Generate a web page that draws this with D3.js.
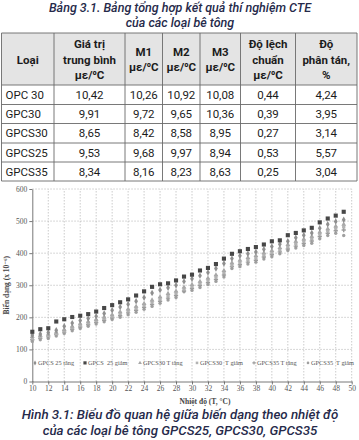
<!DOCTYPE html>
<html><head><meta charset="utf-8">
<script src="https://cdn.jsdelivr.net/npm/d3@7"></script>
<style>
html,body{margin:0;padding:0;background:#fff;}
svg{display:block;}
</style></head>
<body>
<svg id="c" width="359" height="440"></svg>
<script>
// ---------- Table data ----------
const tableTitle = ["Bảng 3.1. Bảng tổng hợp kết quả thí nghiệm CTE", "của các loại bê tông"];
const headers = [["Loại"], ["Giá trị", "trung bình", "με/⁰C"], ["M1", "με/⁰C"], ["M2", "με/⁰C"], ["M3", "με/⁰C"], ["Độ lệch", "chuẩn", "με/⁰C"], ["Độ", "phân tán,", "%"]];
const types = ["OPC 30", "GPC30", "GPCS30", "GPCS25", "GPCS35"];
const meanVals = [10.42, 9.91, 8.65, 9.53, 8.34];
const m1Vals = [10.26, 9.72, 8.42, 9.68, 8.16];
const m2Vals = [10.92, 9.65, 8.58, 9.97, 8.23];
const m3Vals = [10.08, 10.36, 8.95, 8.94, 8.63];
const sdVals = [0.44, 0.39, 0.27, 0.53, 0.25];
const cvVals = [4.24, 3.95, 3.14, 5.57, 3.04];

// ---------- Chart data ----------
const temps = d3.range(10, 50); // 10..49 °C
const seriesNames = ["GPCS 25 tăng", "GPCS  25 giảm", "GPCS30 T tăng", "GPCS30  T giảm", "GPCS35 T tăng", "GPCS35  T giảm"];
const gpcs25Tang = [145,148,153,160,172,182,190,196,203,212,222,232,241,250,262,276,285,292,300,312,320,330,340,352,368,383,392,398,404,412,421,428,437,448,456,463,478,490,499,504];
const gpcs25Giam = [155,163,166,187,194,201,205,210,218,229,238,247,256,268,281,295,303,306,315,327,333,346,354,366,383,398,406,413,419,427,437,440,456,463,471,479,496,508,517,529];
const gpcs30Tang = [140,143,147,153,162,172,180,186,193,201,208,217,226,234,243,254,264,274,282,294,302,312,322,332,346,370,378,386,392,401,408,417,427,437,444,452,466,476,484,490];
const gpcs30Giam = [135,140,144,150,158,168,176,183,190,197,204,212,221,229,238,248,258,268,276,288,296,306,316,326,340,363,371,380,386,395,402,411,420,430,438,446,460,470,478,482];
const gpcs35Tang = [130,135,139,146,154,163,170,177,184,191,198,205,214,222,231,240,250,260,268,282,290,299,308,318,332,358,364,372,378,388,395,404,413,422,430,438,452,462,470,472];
const gpcs35Giam = [125,130,134,142,150,158,165,172,179,186,193,200,208,216,225,234,244,254,262,280,284,293,302,312,326,352,358,366,372,382,389,398,408,416,424,431,445,455,462,455];
const yTicks = [0, 100, 200, 300, 400, 500, 600];
const xTicks = d3.range(10, 51, 2);
const caption = ["Hình 3.1: Biểu đồ quan hệ giữa biến dạng theo nhiệt độ", "của các loại bê tông GPCS25, GPCS30, GPCS35"];

const svg = d3.select("#c");
const titleColor = "#262a4a";
const sans = "Roboto, 'Noto Sans', sans-serif";
const serif = "'Liberation Serif', 'DejaVu Serif', serif";

// ---------- Table title ----------
svg.selectAll("text.tt").data(tableTitle).join("text")
  .attr("x", 180).attr("y", (d, i) => 12 + i * 15)
  .attr("text-anchor", "middle")
  .style("font-family", sans).style("font-style", "italic").style("font-weight", 500)
  .style("font-size", "12.5px").attr("fill", titleColor).text(d => d);

// ---------- Table ----------
const colEdges = [1.5, 54, 125, 162.5, 200, 240.5, 295.5, 357];
const rowEdges = [33, 85, 104.5, 123.5, 143, 162, 181];
const fmt = v => v.toFixed(2).replace(".", ",");
const rows = types.map((t, i) => [t, fmt(meanVals[i]), fmt(m1Vals[i]), fmt(m2Vals[i]), fmt(m3Vals[i]), fmt(sdVals[i]), fmt(cvVals[i])]);

const tbl = svg.append("g");
tbl.append("rect").attr("x", colEdges[0]).attr("y", rowEdges[0])
  .attr("width", colEdges[7] - colEdges[0]).attr("height", rowEdges[1] - rowEdges[0]).attr("fill", "#e4e4e4");
tbl.selectAll("line.h").data(rowEdges).join("line")
  .attr("x1", colEdges[0]).attr("x2", colEdges[7]).attr("y1", d => d).attr("y2", d => d)
  .attr("stroke", "#6a6a6a").attr("stroke-width", 0.9);
tbl.selectAll("line.v").data(colEdges).join("line")
  .attr("y1", rowEdges[0]).attr("y2", rowEdges[6]).attr("x1", d => d).attr("x2", d => d)
  .attr("stroke", "#6a6a6a").attr("stroke-width", 0.9);

headers.forEach((lines, c) => {
  const cx = (colEdges[c] + colEdges[c + 1]) / 2;
  const mid = (rowEdges[0] + rowEdges[1]) / 2;
  const lh = 15.5;
  const y0 = mid - (lines.length - 1) * lh / 2 + 4.5;
  lines.forEach((l, k) => {
    tbl.append("text").attr("x", cx).attr("y", y0 + k * lh).attr("text-anchor", "middle")
      .style("font-family", sans).style("font-weight", 700).style("font-size", "11.5px")
      .attr("fill", "#1c1c1c").text(l);
  });
});
rows.forEach((r, i) => {
  const y = (rowEdges[i + 1] + rowEdges[i + 2]) / 2 + 4.2;
  r.forEach((v, c) => {
    const left = c === 0;
    tbl.append("text")
      .attr("x", left ? colEdges[0] + 4 : (colEdges[c] + colEdges[c + 1]) / 2)
      .attr("y", y).attr("text-anchor", left ? "start" : "middle")
      .style("font-family", sans).style("font-size", "11.5px").attr("fill", "#1c1c1c").text(v);
  });
});

// ---------- Chart ----------
const x = d3.scaleLinear().domain([10, 50]).range([32.3, 351.7]);
const y = d3.scaleLinear().domain([0, 600]).range([381.5, 189]);
const ch = svg.append("g");

ch.selectAll("line.gx").data(xTicks.slice(1)).join("line")
  .attr("x1", d => x(d)).attr("x2", d => x(d)).attr("y1", y(0)).attr("y2", y(600))
  .attr("stroke", "#b5b5b5").attr("stroke-width", 0.7).attr("stroke-dasharray", "1.5,1.5");
ch.selectAll("line.gy").data(yTicks.slice(1)).join("line")
  .attr("x1", x(10)).attr("x2", x(50)).attr("y1", d => y(d)).attr("y2", d => y(d))
  .attr("stroke", "#b5b5b5").attr("stroke-width", 0.7).attr("stroke-dasharray", "1.5,1.5");

const yAxis = d3.axisLeft(y).tickValues(yTicks).tickSize(3).tickSizeOuter(0);
const xAxis = d3.axisBottom(x).tickValues(xTicks).tickSize(3).tickSizeOuter(0);
const ya = ch.append("g").attr("transform", `translate(${x(10)},0)`).call(yAxis);
const xa = ch.append("g").attr("transform", `translate(0,${y(0)})`).call(xAxis);
[ya, xa].forEach(a => {
  a.select(".domain").attr("stroke", "#555").attr("stroke-width", 0.8);
  a.selectAll(".tick line").attr("stroke", "#555").attr("stroke-width", 0.8);
  a.selectAll(".tick text").style("font-family", serif).style("font-size", "7.5px").attr("fill", "#555");
});
ya.selectAll(".tick text").attr("x", -5);
xa.selectAll(".tick text").attr("y", 4);

ch.append("text").attr("transform", `translate(9,${y(300)}) rotate(-90)`).attr("text-anchor", "middle")
  .style("font-family", serif).style("font-weight", 700).style("font-size", "7.5px").attr("fill", "#444")
  .text("Biến dạng (x 10⁻⁶)");
ch.append("text").attr("x", 205).attr("y", 403.5).attr("text-anchor", "middle")
  .style("font-family", serif).style("font-weight", 700).style("font-size", "7.5px").attr("fill", "#444")
  .text("Nhiệt độ (T, °C)");

const seriesVals = [gpcs25Tang, gpcs25Giam, gpcs30Tang, gpcs30Giam, gpcs35Tang, gpcs35Giam];
const shapes = [d3.symbolDiamond, d3.symbolSquare, d3.symbolTriangle, d3.symbolSquare, d3.symbolCross, d3.symbolCircle];
const sizes = [12, 17, 10, 11, 10, 9];
const colors = ["#8f8f8f", "#474747", "#a8a8a8", "#b3b3b3", "#9c9c9c", "#a0a0a0"];
const order = [5, 4, 3, 2, 0, 1];
order.forEach(s => {
  ch.append("g").selectAll("path").data(temps.map((t, i) => [t, seriesVals[s][i]])).join("path")
    .attr("transform", d => `translate(${x(d[0])},${y(d[1])})`)
    .attr("d", d3.symbol(shapes[s], sizes[s])).attr("fill", colors[s]);
});

const legX = [35, 85, 140, 197, 254, 308];
const lg = ch.append("g");
seriesNames.forEach((n, i) => {
  lg.append("path").attr("transform", `translate(${legX[i]},${y(58)})`)
    .attr("d", d3.symbol(shapes[i], sizes[i] * 0.6)).attr("fill", colors[i]);
  lg.append("text").attr("x", legX[i] + 3).attr("y", y(58) + 2.3)
    .style("font-family", serif).style("font-size", "6.3px").style("white-space", "pre").attr("fill", "#555").text(n);
});

svg.selectAll("text.cap").data(caption).join("text")
  .attr("x", 180).attr("y", (d, i) => 418.5 + i * 16.2).attr("text-anchor", "middle")
  .style("font-family", sans).style("font-style", "italic").style("font-weight", 500)
  .style("font-size", "13.3px").attr("fill", titleColor).text(d => d);
</script>
</body></html>
